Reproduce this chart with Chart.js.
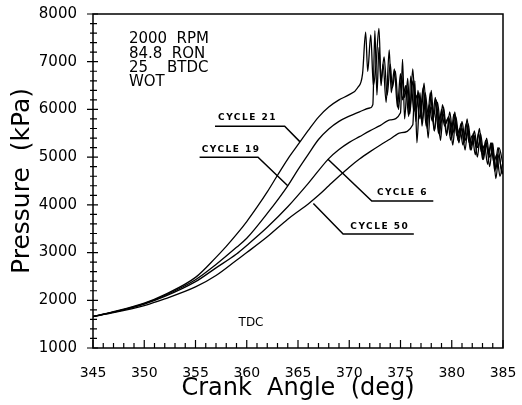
<!DOCTYPE html>
<html>
<head>
<meta charset="utf-8">
<script src="https://cdn.jsdelivr.net/npm/chart.js@4.4.1/dist/chart.umd.min.js"></script>
<style>
  html, body { margin: 0; padding: 0; background: #fff; }
  #wrap { width: 522px; height: 405px; }
</style>
</head>
<body>
<div id="wrap"><canvas id="chart" width="522" height="405"></canvas></div>
<script>
// ── Data ─────────────────────────────────────────
const angles21 = [345,347,350,352,355,357,358,359,360,361,362,363,364,365,366,367,368,369,370,370.8,371.3,
  371.6,371.8,372.1,372.35,372.6,372.9,373.1,373.4,373.7,374.0,
  374.2,374.5,374.8,375.1,375.4,375.6,375.9,376.2,376.5,376.8,
  377.1,377.4,377.7,378.0,378.3,378.6,378.9,379.2,379.5,379.8,
  380.1,380.4,380.7,381.0,381.3,381.6,381.9,382.2,382.5,382.8,
  383.1,383.4,383.7,384.0,384.3,384.6,385];
const cycle21 = [1660,1760,1940,2120,2480,2900,3130,3380,3650,3950,4270,4620,4960,5260,5560,5840,6050,6200,6310,6450,6750,
  7620,6800,7560,6500,6900,7700,6600,7100,6300,6950,
  6450,6800,6000,6700,6250,6500,5900,6600,6000,6300,
  5750,6350,5900,6050,5550,6150,5700,5900,5450,5950,
  5500,5750,5300,5750,5350,5550,5150,5550,5200,5350,
  4950,5400,5000,5150,4750,5200,4850];

const angles19 = [345,347,350,352,355,357,359,360,362,364,365,366,367,368,369,370,371,372,372.3,
  372.5,372.7,372.9,373.1,373.3,373.6,373.9,374.1,374.4,374.7,
  375.0,375.2,375.5,375.8,376.0,376.3,376.6,376.9,377.2,377.5,
  377.8,378.1,378.4,378.7,379.0,379.3,379.6,379.9,380.2,380.5,
  380.8,381.1,381.4,381.7,382.0,382.3,382.6,382.9,383.2,383.5,
  383.8,384.1,384.4,384.7,385];
const cycle19 = [1660,1750,1930,2100,2430,2750,3110,3300,3820,4400,4740,5060,5370,5590,5750,5860,5950,6030,6100,
  7650,6300,7300,6500,6950,6150,7250,6350,6850,6050,
  6750,6200,6500,5850,6700,5950,6300,5800,6450,5650,
  6100,5750,6250,5500,6000,5650,5800,5350,5900,5450,
  5600,5250,5700,5300,5450,5050,5500,5100,5250,4850,
  5300,4900,5050,4600,4900];

const angles6 = [345,347,350,352,355,357,359,360,362,364,366,368,369,370,371,372,373,374,375.0,
  375.2,375.4,375.7,375.9,376.2,376.5,376.7,377.0,377.3,377.6,
  377.9,378.2,378.5,378.8,379.1,379.4,379.7,380.0,380.3,380.6,
  380.9,381.2,381.5,381.8,382.1,382.4,382.7,383.0,383.3,383.6,
  383.9,384.2,384.5,384.8,385];
const cycle6 = [1660,1750,1920,2080,2390,2680,2970,3150,3530,3960,4450,4970,5160,5310,5430,5550,5660,5780,5930,
  7050,5800,6650,5950,6850,5750,6400,5900,6550,5600,
  6350,5800,6200,5450,6100,5700,5850,5400,5950,5350,
  5700,5300,5800,5150,5500,5200,5600,4950,5350,5050,
  5300,4700,5200,4800,4650];

const angles50 = [345,347,350,352,355,357,359,360,362,364,365,366,367,368,369,370,371,372,373,374,375,376.2,
  376.4,376.6,376.9,377.1,377.4,377.7,378.0,378.3,378.6,378.9,
  379.2,379.5,379.8,380.1,380.4,380.7,381.0,381.3,381.6,381.9,
  382.2,382.5,382.8,383.1,383.4,383.7,384.0,384.3,384.6,384.9,
  385];
const cycle50 = [1660,1740,1890,2030,2280,2520,2840,3000,3330,3700,3860,4020,4200,4400,4600,4790,4960,5110,5250,5380,5510,5680,
  6600,5300,6350,5650,6250,5400,6400,5550,6000,5350,
  6050,5500,5800,5250,5850,5400,5600,5150,5700,5250,
  5450,5000,5500,5100,5250,4800,5300,4550,5050,4650,
  4700];

const xTicks = [345, 350, 355, 360, 365, 370, 375, 380, 385];
const yTicks = [1000, 2000, 3000, 4000, 5000, 6000, 7000, 8000];
const conditions = ['2000  RPM', '84.8  RON', '25    BTDC', 'WOT'];

// label text, label anchor, leader line points (data units)
const cycleLabels = [
  { text: 'CYCLE 21', at: [357.2, 5820], line: [[365.2, 5320], [363.7, 5650], [356.9, 5650]] },
  { text: 'CYCLE 19', at: [355.6, 5160], line: [[364.0, 4400], [361.1, 5000], [355.4, 5000]] },
  { text: 'CYCLE 6',  at: [372.7, 4250], line: [[367.9, 4960], [372.2, 4080], [378.2, 4080]] },
  { text: 'CYCLE 50', at: [370.1, 3550], line: [[366.5, 4030], [369.4, 3390], [376.3, 3390]] },
];

const FONT = "'DejaVu Sans', sans-serif";

function toPoints(xs, ys) {
  return xs.map((x, i) => ({ x: x, y: ys[i] }));
}

function traceSet(label, xs, ys) {
  return {
    label: label,
    data: toPoints(xs, ys),
    borderColor: '#000',
    borderWidth: 1.3,
    pointRadius: 0,
    fill: false,
    cubicInterpolationMode: 'monotone',
  };
}

// ── Frame, inward ticks and annotations ─────────
const framePlugin = {
  id: 'frame',
  afterDraw(chart) {
    const { ctx, chartArea: a, scales: { x, y } } = chart;
    ctx.save();
    ctx.strokeStyle = '#000';
    ctx.lineWidth = 1.5;
    ctx.strokeRect(a.left, a.top, a.right - a.left, a.bottom - a.top);

    // x ticks every degree, pointing up
    ctx.lineWidth = 1.2;
    ctx.beginPath();
    for (let v = 345; v <= 385; v++) {
      const px = x.getPixelForValue(v);
      const len = v % 5 === 0 ? 8 : 5;
      ctx.moveTo(px, a.bottom);
      ctx.lineTo(px, a.bottom - len);
    }
    // y ticks every 200 kPa, crossing the axis
    for (let v = 1000; v <= 8000; v += 200) {
      const py = y.getPixelForValue(v);
      const major = v % 1000 === 0;
      ctx.moveTo(a.left - (major ? 6 : 3), py);
      ctx.lineTo(a.left + (major ? 5 : 4), py);
    }
    ctx.stroke();

    // run conditions
    ctx.fillStyle = '#000';
    ctx.font = '15px ' + FONT;
    ctx.textBaseline = 'middle';
    ctx.textAlign = 'left';
    const condY = [7470, 7160, 6860, 6575];
    conditions.forEach((t, i) => {
      ctx.fillText(t, x.getPixelForValue(348.5), y.getPixelForValue(condY[i]));
    });
    ctx.font = '12px ' + FONT;
    ctx.fillText('TDC', x.getPixelForValue(359.2), y.getPixelForValue(1520));

    // cycle labels with leader lines
    ctx.font = 'bold 9px ' + FONT;
    ctx.letterSpacing = '1.5px';
    ctx.lineWidth = 1.5;
    cycleLabels.forEach(c => {
      ctx.fillText(c.text, x.getPixelForValue(c.at[0]), y.getPixelForValue(c.at[1]));
      ctx.beginPath();
      c.line.forEach((p, i) => {
        const px = x.getPixelForValue(p[0]);
        const py = y.getPixelForValue(p[1]);
        if (i === 0) ctx.moveTo(px, py); else ctx.lineTo(px, py);
      });
      ctx.stroke();
    });
    ctx.restore();
  },
};

// ── Chart ───────────────────────────────────────
new Chart(document.getElementById('chart'), {
  type: 'line',
  data: {
    datasets: [
      traceSet('Cycle 21', angles21, cycle21),
      traceSet('Cycle 19', angles19, cycle19),
      traceSet('Cycle 6',  angles6,  cycle6),
      traceSet('Cycle 50', angles50, cycle50),
    ],
  },
  options: {
    responsive: false,
    animation: false,
    layout: { padding: 0 },
    plugins: { legend: { display: false }, tooltip: { enabled: false } },
    scales: {
      x: {
        type: 'linear',
        min: 345,
        max: 385,
        afterBuildTicks: s => { s.ticks = xTicks.map(v => ({ value: v })); },
        ticks: { color: '#000', font: { family: FONT, size: 14 }, padding: 17, maxRotation: 0,
                 callback: v => String(v) },
        grid: { display: false, drawTicks: false },
        border: { display: false },
        title: { display: true, text: 'Crank  Angle  (deg)', color: '#000',
                 font: { family: FONT, size: 24 }, padding: { top: 0, bottom: 2 } },
        // fixed box so the plot frame lands where the scan has it
        afterFit: s => { s.height = 57; s.paddingLeft = 0; s.paddingRight = 19; },
      },
      y: {
        type: 'linear',
        min: 1000,
        max: 8000,
        afterBuildTicks: s => { s.ticks = yTicks.map(v => ({ value: v })); },
        ticks: { color: '#000', font: { family: FONT, size: 15 }, padding: 16,
                 callback: v => String(v) },
        grid: { display: false, drawTicks: false },
        border: { display: false },
        title: { display: true, text: 'Pressure  (kPa)', color: '#000',
                 font: { family: FONT, size: 25 }, padding: { top: 7, bottom: 0 } },
        afterFit: s => { s.width = 93; s.paddingTop = 14; s.paddingBottom = 0; },
      },
    },
  },
  plugins: [framePlugin],
});
</script>
</body>
</html>
